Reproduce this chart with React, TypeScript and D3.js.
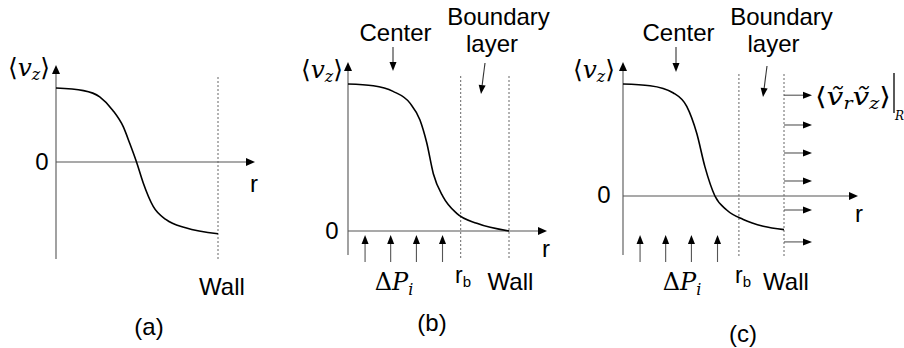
import React from "react";
import * as d3 from "d3";

// ---- data (r normalised to wall = 1, v normalised to centre value = 1)
const profileA_r = [0, 0.17, 0.27, 0.35, 0.415, 0.455, 0.497, 0.538, 0.6, 0.68, 0.8, 1.0];
const profileA_v = [1.0, 0.965, 0.88, 0.7, 0.477, 0.253, 0, -0.28, -0.6, -0.78, -0.89, -0.97];

const profileB_r = [0, 0.157, 0.28, 0.385, 0.447, 0.489, 0.53, 0.59, 0.675, 0.8, 1.0];
const profileB_v = [1.0, 0.988, 0.95, 0.87, 0.755, 0.6, 0.39, 0.234, 0.12, 0.052, 0];

const profileC_r = [0, 0.168, 0.313, 0.396, 0.458, 0.509, 0.571, 0.644, 0.747, 0.871, 1.0];
const profileC_v = [1.0, 0.985, 0.92, 0.8, 0.56, 0.26, 0, -0.125, -0.21, -0.27, -0.3];

const pressureArrowR = [0.106, 0.265, 0.425, 0.587];
const stressArrowV = [0.9, 0.634, 0.384, 0.134, -0.125, -0.41];
const boundaryR_b = 0.7;
const boundaryR_c = 0.72;

const panelLabels = ["(a)", "(b)", "(c)"];

const SANS = "'Liberation Sans', Arial, sans-serif";
const SERIF = "'DejaVu Serif', 'Liberation Serif', serif";
const AXIS = "#555";
const DASH = "#666";

type Panel = {
  x0: number; xw: number; y0: number; y1: number;
  top: number; bottom: number; xEnd: number; dTop: number; dBot: number;
};

const PA: Panel = { x0: 56, xw: 218, y0: 162, y1: 88, top: 65, bottom: 259, xEnd: 255, dTop: 77, dBot: 261 };
const PB: Panel = { x0: 348, xw: 509, y0: 231, y1: 84, top: 62, bottom: 255, xEnd: 547, dTop: 76, dBot: 258 };
const PC: Panel = { x0: 623, xw: 784, y0: 196, y1: 84, top: 62, bottom: 255, xEnd: 858, dTop: 74, dBot: 258 };

function scales(p: Panel) {
  const x = d3.scaleLinear().domain([0, 1]).range([p.x0, p.xw]);
  const y = d3.scaleLinear().domain([0, 1]).range([p.y0, p.y1]);
  return { x, y };
}

function curvePath(p: Panel, rs: number[], vs: number[]) {
  const { x, y } = scales(p);
  const pts: [number, number][] = rs.map((r, i) => [r, vs[i]]);
  return d3.line<[number, number]>().x(d => x(d[0])).y(d => y(d[1])).curve(d3.curveMonotoneX)(pts) || "";
}

function Axes({ p }: { p: Panel }) {
  return (
    <g>
      <line x1={p.x0} x2={p.x0} y1={p.bottom} y2={p.top + 8} stroke={AXIS} strokeWidth={1.1} />
      <path d={`M${p.x0},${p.top} L${p.x0 - 4},${p.top + 9} L${p.x0 + 4},${p.top + 9} Z`} fill="#000" />
      <line x1={p.x0} x2={p.xEnd - 8} y1={p.y0} y2={p.y0} stroke={AXIS} strokeWidth={1.1} />
      <path d={`M${p.xEnd},${p.y0} L${p.xEnd - 9},${p.y0 - 4} L${p.xEnd - 9},${p.y0 + 4} Z`} fill="#000" />
    </g>
  );
}

function Dashed({ x, p }: { x: number; p: Panel }) {
  return <line x1={x} x2={x} y1={p.dTop} y2={p.dBot} stroke={DASH} strokeWidth={1} strokeDasharray="2,2" />;
}

function VzLabel({ x, y }: { x: number; y: number }) {
  return (
    <text x={x} y={y} fontFamily={SERIF} fontSize={25} fill="#000" textLength={42} lengthAdjust="spacingAndGlyphs">
      <tspan>⟨</tspan>
      <tspan fontStyle="italic">v</tspan>
      <tspan fontStyle="italic" fontSize={16} dy={4}>z</tspan>
      <tspan dy={-4}>⟩</tspan>
    </text>
  );
}

function DeltaP({ cx, y }: { cx: number; y: number }) {
  return (
    <text x={cx} y={y} fontFamily={SERIF} fontSize={24} fill="#000" textAnchor="middle">
      <tspan>Δ</tspan>
      <tspan fontStyle="italic">P</tspan>
      <tspan fontStyle="italic" fontSize={16} dy={5}>i</tspan>
    </text>
  );
}

function Rb({ x, y }: { x: number; y: number }) {
  return (
    <text x={x} y={y} fontFamily={SANS} fontSize={23} fill="#000">
      <tspan>r</tspan>
      <tspan fontSize={15} dy={4}>b</tspan>
    </text>
  );
}

function UpArrows({ p }: { p: Panel }) {
  const { x } = scales(p);
  return (
    <g>
      {pressureArrowR.map((r, i) => {
        const xx = x(r);
        return (
          <g key={i}>
            <line x1={xx} x2={xx} y1={262} y2={243} stroke={AXIS} strokeWidth={1.1} />
            <path d={`M${xx},${235} L${xx - 3.5},${244} L${xx + 3.5},${244} Z`} fill="#000" />
          </g>
        );
      })}
    </g>
  );
}

function Text({ x, y, children, anchor = "middle", size = 24 }: any) {
  return (
    <text x={x} y={y} fontFamily={SANS} fontSize={size} fill="#000" textAnchor={anchor}>
      {children}
    </text>
  );
}

function DownArrow({ x1, y1, x2, y2 }: { x1: number; y1: number; x2: number; y2: number }) {
  const ang = Math.atan2(y2 - y1, x2 - x1);
  const L = 9, W = 3.5;
  const bx = x2 - L * Math.cos(ang), by = y2 - L * Math.sin(ang);
  const px = -Math.sin(ang) * W, py = Math.cos(ang) * W;
  return (
    <g>
      <line x1={x1} y1={y1} x2={bx} y2={by} stroke="#333" strokeWidth={1.1} />
      <path d={`M${x2},${y2} L${bx + px},${by + py} L${bx - px},${by - py} Z`} fill="#000" />
    </g>
  );
}

export default function App() {
  const sa = scales(PA), sb = scales(PB), sc = scales(PC);
  return (
    <svg width={904} height={348} style={{ position: "absolute", left: 0, top: 0, background: "#fff" }}>
      <rect width={904} height={348} fill="#fff" />
      {/* Panel (a) */}
      <Axes p={PA} />
      <Dashed x={sa.x(1)} p={PA} />
      <path d={curvePath(PA, profileA_r, profileA_v)} fill="none" stroke="#000" strokeWidth={1.6} />
      <VzLabel x={8} y={76} />
      <Text x={42} y={170}>0</Text>
      <Text x={254} y={192}>r</Text>
      <Text x={222} y={295}>Wall</Text>
      <Text x={149} y={335}>{panelLabels[0]}</Text>

      {/* Panel (b) */}
      <Axes p={PB} />
      <Dashed x={sb.x(boundaryR_b)} p={PB} />
      <Dashed x={sb.x(1)} p={PB} />
      <path d={curvePath(PB, profileB_r, profileB_v)} fill="none" stroke="#000" strokeWidth={1.6} />
      <VzLabel x={301} y={78} />
      <Text x={332} y={239}>0</Text>
      <Text x={546} y={257}>r</Text>
      <Text x={395.5} y={41}>Center</Text>
      <DownArrow x1={393} y1={47} x2={393} y2={71} />
      <Text x={498.5} y={25}>Boundary</Text>
      <Text x={492} y={52}>layer</Text>
      <DownArrow x1={485} y1={63} x2={481} y2={94} />
      <UpArrows p={PB} />
      <DeltaP cx={394} y={290} />
      <Rb x={455} y={283} />
      <Text x={510.5} y={290}>Wall</Text>
      <Text x={432} y={331}>{panelLabels[1]}</Text>

      {/* Panel (c) */}
      <Axes p={PC} />
      <Dashed x={sc.x(boundaryR_c)} p={PC} />
      <Dashed x={sc.x(1)} p={PC} />
      <path d={curvePath(PC, profileC_r, profileC_v)} fill="none" stroke="#000" strokeWidth={1.6} />
      <VzLabel x={573} y={78} />
      <Text x={604} y={203}>0</Text>
      <Text x={859} y={222}>r</Text>
      <Text x={678.5} y={41}>Center</Text>
      <DownArrow x1={676} y1={47} x2={676} y2={72} />
      <Text x={781.5} y={25}>Boundary</Text>
      <Text x={773.5} y={52}>layer</Text>
      <DownArrow x1={767} y1={66} x2={763} y2={97} />
      <UpArrows p={PC} />
      <DeltaP cx={682} y={290} />
      <Rb x={735} y={283} />
      <Text x={786} y={290}>Wall</Text>
      <Text x={743} y={342}>{panelLabels[2]}</Text>
      {stressArrowV.map((v, i) => {
        const yy = sc.y(v);
        const x1 = sc.x(1), x2 = x1 + 28;
        return (
          <g key={i}>
            <line x1={x1} x2={x2 - 8} y1={yy} y2={yy} stroke={AXIS} strokeWidth={1.1} />
            <path d={`M${x2},${yy} L${x2 - 9},${yy - 3.5} L${x2 - 9},${yy + 3.5} Z`} fill="#000" />
          </g>
        );
      })}
      <text x={815} y={105} fontFamily={SERIF} fontSize={25} fill="#000" textLength={76} lengthAdjust="spacingAndGlyphs">
        <tspan>⟨</tspan>
        <tspan fontStyle="italic">ṽ</tspan>
        <tspan fontStyle="italic" fontSize={16} dy={4}>r</tspan>
        <tspan fontStyle="italic" dy={-4}>ṽ</tspan>
        <tspan fontStyle="italic" fontSize={16} dy={4}>z</tspan>
        <tspan dy={-4}>⟩</tspan>
      </text>
      <line x1={894} x2={894} y1={73} y2={113} stroke="#000" strokeWidth={1.3} />
      <text x={895} y={120} fontFamily={SERIF} fontSize={12} fontStyle="italic" fill="#000">R</text>
    </svg>
  );
}
